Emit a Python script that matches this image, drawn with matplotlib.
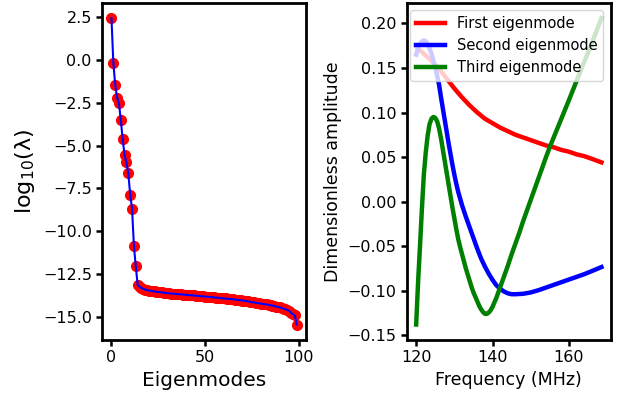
import matplotlib
matplotlib.use("Agg")
import matplotlib.pyplot as plt
import numpy as np

# left panel: log10 of the eigenvalues, one per mode
log_eig = [
    2.44, -0.16, -1.46, -2.20, -2.54, -3.51, -4.64, -5.56, -5.99, -6.63,
    -7.86, -8.68, -10.87, -12.06, -13.14, -13.24, -13.32, -13.36, -13.41, -13.44,
    -13.47, -13.48, -13.50, -13.52, -13.54, -13.55, -13.56, -13.58, -13.59, -13.61,
    -13.62, -13.63, -13.64, -13.65, -13.66, -13.67, -13.68, -13.69, -13.70, -13.71,
    -13.72, -13.73, -13.74, -13.75, -13.75, -13.77, -13.78, -13.79, -13.80, -13.80,
    -13.82, -13.83, -13.84, -13.84, -13.86, -13.87, -13.88, -13.89, -13.90, -13.91,
    -13.93, -13.93, -13.95, -13.96, -13.96, -13.98, -13.99, -14.00, -14.02, -14.03,
    -14.05, -14.06, -14.08, -14.10, -14.12, -14.15, -14.15, -14.18, -14.20, -14.21,
    -14.23, -14.25, -14.27, -14.28, -14.31, -14.33, -14.35, -14.37, -14.40, -14.42,
    -14.45, -14.48, -14.52, -14.56, -14.60, -14.65, -14.78, -14.85, -14.92, -15.45,
]
modes = np.arange(len(log_eig))

# right panel: first three eigenmodes vs frequency (MHz)
f1 = [120, 122, 124, 126, 128, 130, 132, 134, 136, 138, 140, 142, 144, 146, 148,
      150, 152, 154, 156, 158, 160, 162, 164, 166, 168.5]
mode1 = [0.174, 0.166, 0.158, 0.149, 0.138, 0.127, 0.117, 0.108, 0.100, 0.093,
         0.088, 0.083, 0.079, 0.075, 0.072, 0.069, 0.066, 0.063, 0.061, 0.058,
         0.056, 0.053, 0.051, 0.048, 0.044]

f2 = [120, 120.5, 121, 121.5, 122, 122.5, 123, 123.5, 124, 124.5, 125, 125.5, 126,
      126.5, 127, 127.5, 128, 128.5, 129, 129.5, 130, 130.5, 131, 132, 133, 134, 135,
      136, 137, 138, 139, 140, 141, 142, 143, 144, 145, 146, 148, 150, 152, 154, 156,
      158, 160, 162, 164, 166, 168.5]
mode2 = [0.165, 0.172, 0.177, 0.180, 0.181, 0.180, 0.177, 0.172, 0.166, 0.158, 0.150,
         0.141, 0.131, 0.117, 0.104, 0.091, 0.078, 0.065, 0.053, 0.041, 0.030, 0.020,
         0.011, -0.004, -0.017, -0.029, -0.041, -0.053, -0.064, -0.073, -0.081, -0.088,
         -0.094, -0.098, -0.101, -0.103, -0.104, -0.104, -0.1035, -0.102, -0.0995,
         -0.0965, -0.0935, -0.0905, -0.0875, -0.0845, -0.0815, -0.078, -0.0735]

f3 = [120, 120.5, 121, 121.5, 122, 122.5, 123, 123.5, 124, 124.5, 125, 125.5, 126,
      126.5, 127, 127.5, 128, 128.5, 129, 129.5, 130, 130.5, 131, 131.5, 132, 132.5,
      133, 133.5, 134, 134.5, 135, 135.5, 136, 136.5, 137, 137.5, 138, 138.5, 139,
      139.5, 140, 140.5, 141, 141.5, 142, 143, 144, 145, 146, 147, 148, 149, 150, 151,
      152, 153, 154, 155, 156, 158, 160, 162, 164, 166, 168.5]
mode3 = [-0.138, -0.090, -0.050, -0.008, 0.030, 0.055, 0.074, 0.087, 0.093, 0.095,
         0.094, 0.090, 0.082, 0.071, 0.058, 0.045, 0.032, 0.019, 0.006, -0.007, -0.019,
         -0.031, -0.042, -0.051, -0.059, -0.067, -0.075, -0.082, -0.089, -0.096, -0.102,
         -0.107, -0.112, -0.117, -0.121, -0.124, -0.126, -0.126, -0.1245, -0.122, -0.118,
         -0.113, -0.108, -0.102, -0.096, -0.084, -0.072, -0.059, -0.047, -0.035, -0.022,
         -0.010, 0.002, 0.014, 0.026, 0.038, 0.050, 0.0615, 0.072, 0.093, 0.114, 0.1356,
         0.157, 0.178, 0.206]

fig = plt.figure(figsize=(6.27, 3.97), dpi=100)
ax1 = fig.add_axes([0.163, 0.144, 0.325, 0.849])
ax2 = fig.add_axes([0.649, 0.144, 0.325, 0.849])

ax1.plot(modes, log_eig, 'o', color='red', markersize=7)
ax1.plot(modes, log_eig, '-', color='blue', lw=1.5)
ax1.set_xlabel("Eigenmodes", fontsize=14.5)
ax1.set_ylabel("log$_{10}$(λ)", fontsize=16)
ax1.set_yticks([2.5, 0, -2.5, -5, -7.5, -10, -12.5, -15])

ax2.plot(f1, mode1, color='red', lw=3.2, label="First eigenmode")
ax2.plot(f2, mode2, color='blue', lw=3.2, label="Second eigenmode")
ax2.plot(f3, mode3, color='green', lw=3.2, label="Third eigenmode")
ax2.set_xlabel("Frequency (MHz)", fontsize=12.5)
ax2.set_ylabel("Dimensionless amplitude", fontsize=12.5)
ax2.set_xticks([120, 140, 160])
ax2.legend(loc='upper right', fontsize=10.5)

for ax in (ax1, ax2):
    for s in ax.spines.values():
        s.set_linewidth(2)
    ax.tick_params(labelsize=11.5, width=1.8, length=4)

fig.savefig("out.png", dpi=100)
